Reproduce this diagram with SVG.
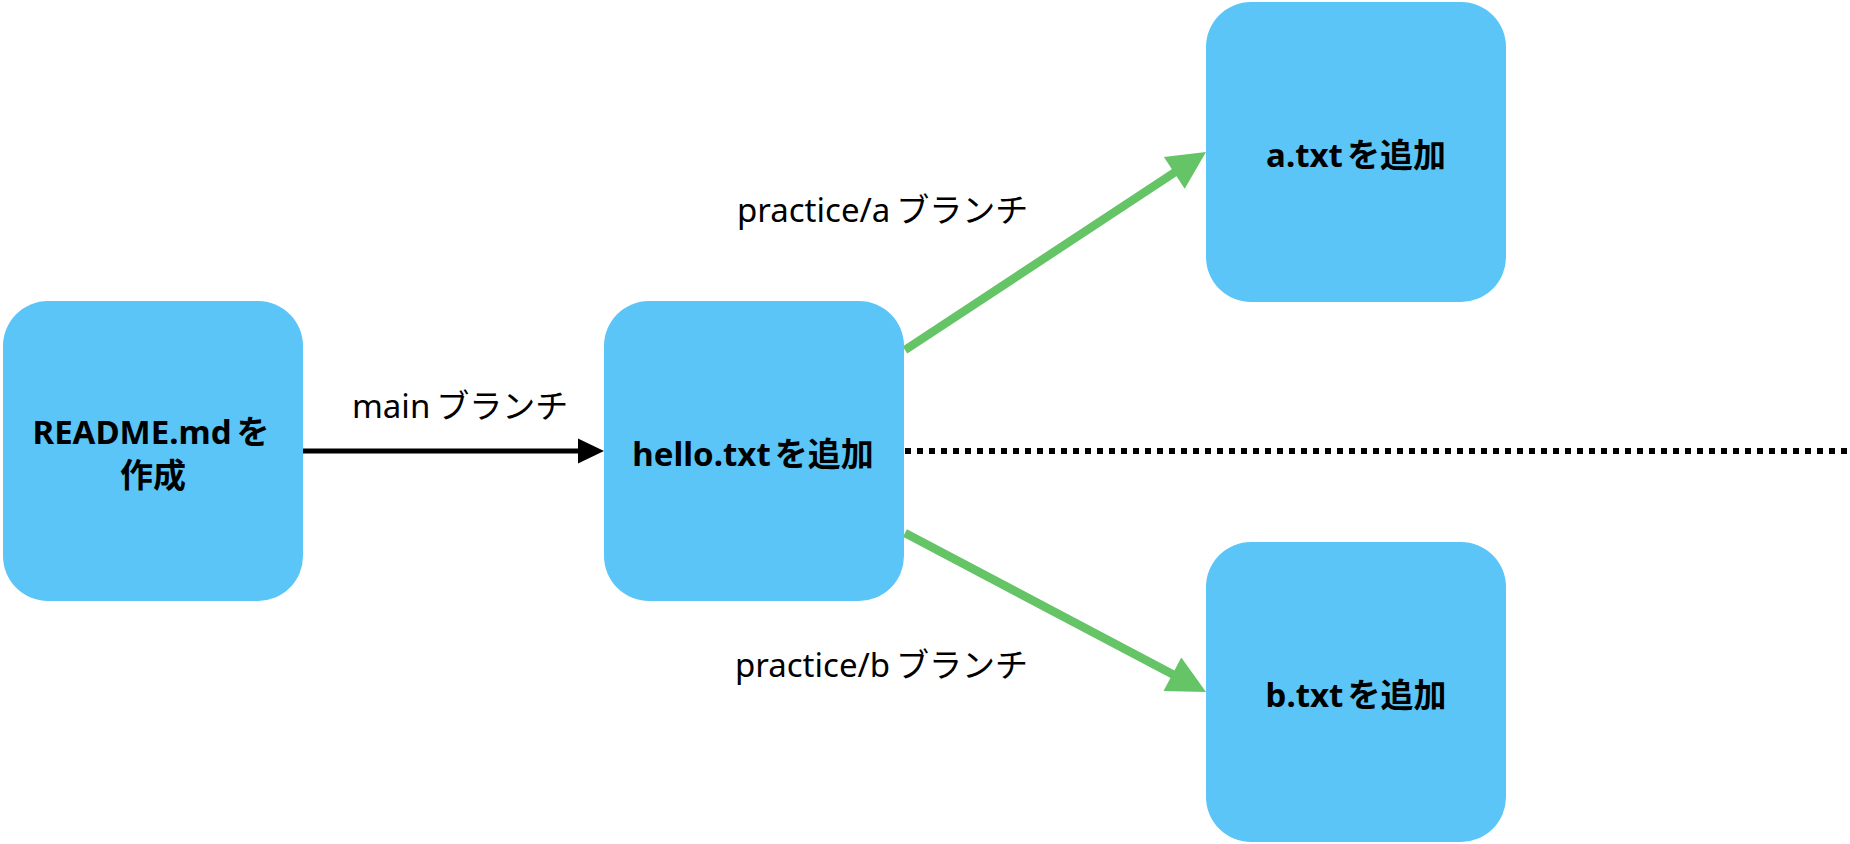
<svg xmlns="http://www.w3.org/2000/svg" width="1850" height="844" viewBox="0 0 1850 844">
<style>
.box{fill:#5AC5F6;}
.t{font-family:"Noto Sans","Noto Sans CJK JP",sans-serif;font-size:33px;fill:#000;}
.b{font-weight:bold;text-anchor:middle;}
.g{stroke:#64C466;stroke-width:8.5;fill:none;}
</style>
<rect width="1850" height="844" fill="#fff"/>
<g id="connectors">
<line x1="303" y1="451" x2="580" y2="451" stroke="#000" stroke-width="5"/>
<polygon points="578,438.5 604,451 578,463.5" fill="#000"/>
<line x1="905" y1="451" x2="1850" y2="451" stroke="#000" stroke-width="6" stroke-dasharray="6 6"/>
<line class="g" x1="905" y1="350" x2="1176" y2="171.5"/>
<polygon points="1206,152 1163.9,157 1184.7,188.8" fill="#64C466"/>
<line class="g" x1="905" y1="533" x2="1174" y2="675"/>
<polygon points="1206,692 1163.5,691.1 1181.3,657.5" fill="#64C466"/>
<text class="t" x="352" y="418">main<tspan dx="6">ブランチ</tspan></text>
<text class="t" x="737" y="222">practice/a<tspan dx="6">ブランチ</tspan></text>
<text class="t" x="735" y="677">practice/b<tspan dx="6">ブランチ</tspan></text>
</g>
<g id="readme">
<rect class="box" x="3" y="301" width="300" height="300" rx="45"/>
<text class="t b" x="151" y="444" font-size="34">README.md<tspan dx="5">を</tspan></text>
<text class="t b" x="153" y="487">作成</text>
</g>
<g id="hello">
<rect class="box" x="604" y="301" width="300" height="300" rx="45"/>
<text class="t b" x="753" y="466">hello.txt<tspan dx="4">を追加</tspan></text>
</g>
<g id="a">
<rect class="box" x="1206" y="2" width="300" height="300" rx="45"/>
<text class="t b" x="1356" y="167">a.txt<tspan dx="4">を追加</tspan></text>
</g>
<g id="b">
<rect class="box" x="1206" y="542" width="300" height="300" rx="45"/>
<text class="t b" x="1356" y="707">b.txt<tspan dx="4">を追加</tspan></text>
</g>
</svg>
